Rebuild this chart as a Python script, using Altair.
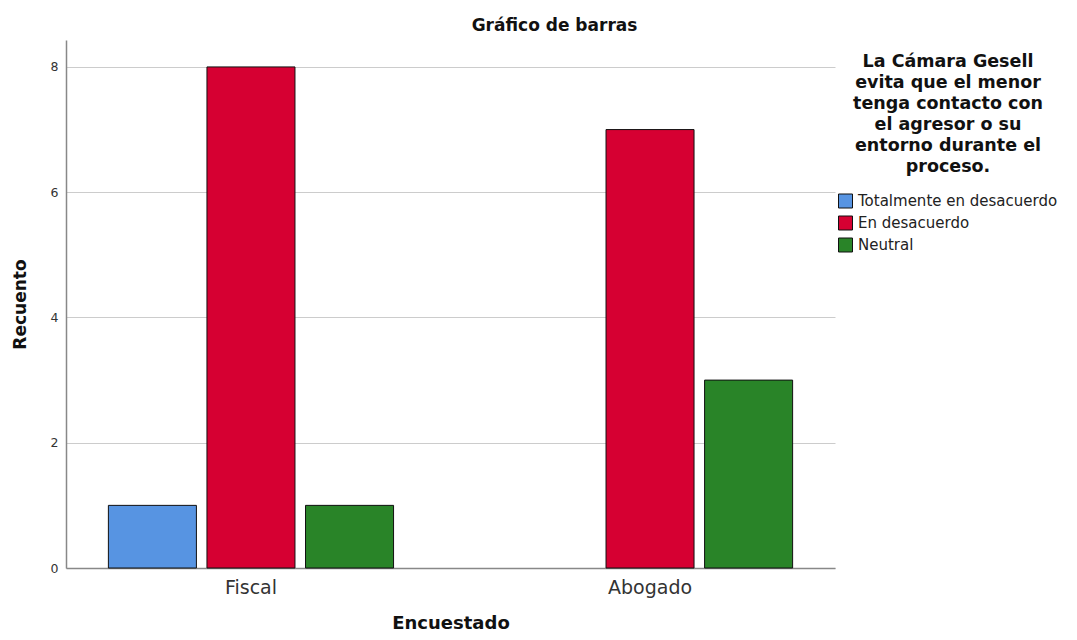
import altair as alt
import pandas as pd

encuestado = ["Fiscal", "Fiscal", "Fiscal", "Abogado", "Abogado"]
respuesta = ["Totalmente en desacuerdo", "En desacuerdo", "Neutral", "En desacuerdo", "Neutral"]
recuento = [1, 8, 1, 7, 3]

categorias_x = ["Fiscal", "Abogado"]
categorias_resp = ["Totalmente en desacuerdo", "En desacuerdo", "Neutral"]
colores = ["#5794e2", "#d60032", "#298428"]
y_ticks = [0, 2, 4, 6, 8]
legend_title = ["La Cámara Gesell", "evita que el menor", "tenga contacto con",
                "el agresor o su", "entorno durante el", "proceso."]

df = pd.DataFrame({"Encuestado": encuestado, "Respuesta": respuesta, "Recuento": recuento})

FONT = "DejaVu Sans"

chart = alt.Chart(df).mark_bar(stroke="#111111", strokeWidth=1).encode(
    x=alt.X("Encuestado:N", sort=categorias_x,
            scale=alt.Scale(paddingInner=0.073, paddingOuter=0),
            axis=alt.Axis(title="Encuestado", labelAngle=0, labelFontSize=19, labelColor="#333333",
                          labelFont=FONT, labelPadding=10, ticks=False, domainColor="#888888",
                          domainWidth=1.5, titleFont=FONT, titleFontSize=18, titleFontWeight="bold",
                          titleColor="#111111", titleY=55, titleBaseline="middle", grid=False)),
    xOffset=alt.XOffset("Respuesta:N", sort=categorias_resp,
                        scale=alt.Scale(domain=categorias_resp, paddingInner=0.107, paddingOuter=0.43)),
    y=alt.Y("Recuento:Q", scale=alt.Scale(domain=[0, 8.43], nice=False),
            axis=alt.Axis(title="Recuento", values=y_ticks, labelFontSize=12.5, labelColor="#333333",
                          labelFont=FONT, labelPadding=8, ticks=False, domainColor="#888888",
                          domainWidth=1.5, gridColor="#cccccc", gridWidth=1,
                          titleFont=FONT, titleFontSize=17, titleFontWeight="bold",
                          titleColor="#111111", titleX=-46, titleY=264, titleBaseline="middle",
                          titleAngle=270)),
    color=alt.Color("Respuesta:N", sort=categorias_resp,
                    scale=alt.Scale(domain=categorias_resp, range=colores),
                    legend=alt.Legend(title=legend_title, orient="none", legendX=772, legendY=13,
                                      titleFont=FONT, titleFontSize=17.5, titleFontWeight="bold",
                                      titleColor="#111111", titleAnchor="middle", titleAlign="center",
                                      titleLineHeight=21, titlePadding=18, titleLimit=300,
                                      labelFont=FONT, labelFontSize=15, labelColor="#222222",
                                      labelLimit=300,
                                      symbolType="square", symbolSize=196, symbolStrokeColor="#111111",
                                      symbolStrokeWidth=1, symbolOpacity=1, rowPadding=3, labelOffset=5)),
).properties(
    width=769, height=528,
    title=alt.Title("Gráfico de barras", font=FONT, fontSize=17, fontWeight="bold",
                    color="#111111", anchor="middle", dx=104, offset=5),
    autosize=alt.AutoSizeParams(type="none"),
    padding={"left": 58, "top": 32, "right": 234, "bottom": 64},
).configure_view(stroke=None)

chart.save("out.html", embed_options={"renderer": "svg", "actions": False})
